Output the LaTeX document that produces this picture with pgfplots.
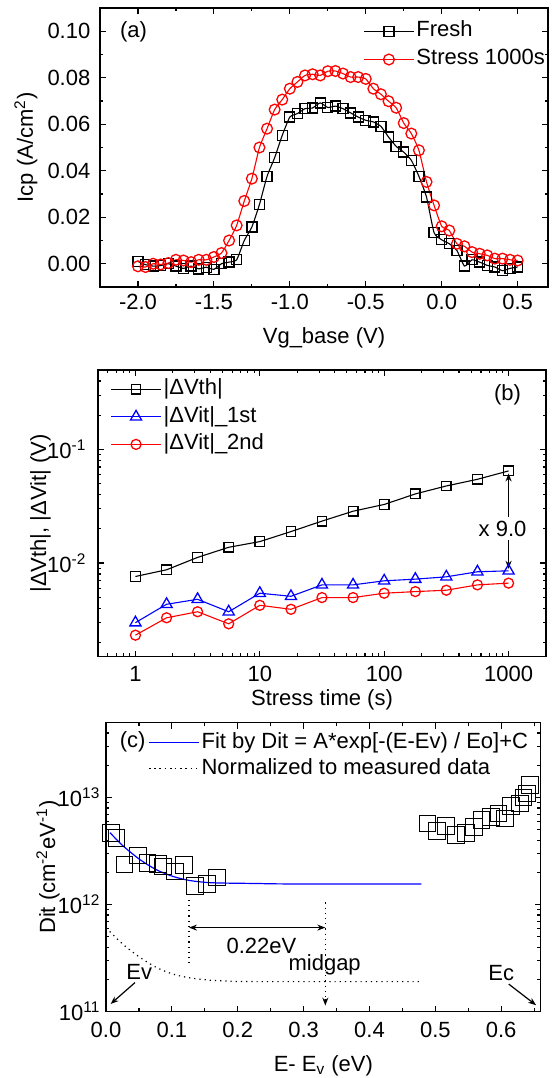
\documentclass[border=0pt]{standalone}
\usepackage{fontspec}
\setmainfont{Liberation Sans}
\usepackage{pgfplots}
\pgfplotsset{compat=1.18}
\usetikzlibrary{arrows.meta}

\pgfplotsset{
  orig/.style={
    scale only axis,
    anchor=south west,
    clip=false,
    font=\fontsize{11}{13}\selectfont,
    axis line style={line width=0.7pt},
    tick align=inside,
    major tick length=3pt,
    minor tick length=1.7pt,
    every tick/.append style={black, line width=0.6pt},
    every minor tick/.append style={black, line width=0.6pt},
    tick label style={font=\fontsize{11}{13}\selectfont},
    label style={font=\fontsize{11}{13}\selectfont},
    legend cell align=left,
    /pgf/number format/assume math mode=true,
    legend image code/.code={\draw[mark repeat=2,mark phase=2,#1] plot coordinates {(0pt,0pt) (12.5pt,0pt) (25pt,0pt)};},
    legend style={draw=none, fill=none, inner sep=0pt, row sep=1.5pt,
      font=\fontsize{11}{13}\selectfont,
      nodes={inner sep=1pt, text height=8pt, text depth=2.5pt}},
  },
  ln/.style={line width=0.55pt, mark options={solid, line width=0.65pt}},
}

\begin{document}
\begin{tikzpicture}
\path[use as bounding box] (0,0) rectangle (279.5pt,539pt);

% ---------------- (a) ----------------
\begin{axis}[orig, at={(50pt,395.5pt)}, width=224pt, height=139.5pt,
  xmin=-2.25, xmax=0.7, ymin=-0.01, ymax=0.11,
  xtick={-2,-1.5,-1,-0.5,0,0.5}, xticklabels={-2.0,-1.5,-1.0,-0.5,0.0,0.5},
  minor xtick={-1.75,-1.25,-0.75,-0.25,0.25},
  ytick={0,0.02,0.04,0.06,0.08,0.10}, yticklabels={0.00,0.02,0.04,0.06,0.08,0.10},
  minor ytick={0.01,0.03,0.05,0.07,0.09},
  yticklabel style={xshift=-1.3pt},
  xlabel={Vg\_base (V)}, ylabel={Icp (A/cm\textsuperscript{2})},
  xlabel style={at={(axis description cs:0.5,0)}, anchor=base, yshift=-28.5pt},
  ylabel style={at={(axis description cs:-0.1496,0.5)}, anchor=base},
  legend style={at={(axis description cs:0.587,0.962)}, anchor=north west, row sep=1.5pt},
]
\addplot[ln, black, mark=square, mark size=2.5pt, smooth, tension=0.3] coordinates {
(-2.00,0.0010) (-1.95,-0.0004) (-1.90,-0.0010) (-1.85,-0.0008) (-1.80,0.0000)
(-1.75,-0.0010) (-1.70,-0.0020) (-1.65,-0.0010) (-1.60,-0.0022) (-1.55,-0.0015)
(-1.50,-0.0024) (-1.45,0.0000) (-1.40,0.0007) (-1.35,0.0017) (-1.30,0.0100)
(-1.25,0.0158) (-1.20,0.0255) (-1.15,0.0376) (-1.10,0.0456) (-1.05,0.0552)
(-1.00,0.0631) (-0.95,0.0646) (-0.90,0.0667) (-0.85,0.0670) (-0.80,0.0692)
(-0.75,0.0672) (-0.70,0.0678) (-0.65,0.0667) (-0.60,0.0649) (-0.55,0.0631)
(-0.50,0.0617) (-0.45,0.0610) (-0.40,0.0591) (-0.35,0.0545) (-0.30,0.0505)
(-0.25,0.0480) (-0.20,0.0445) (-0.15,0.0376) (-0.10,0.0287) (-0.05,0.0133)
(0.00,0.0103) (0.05,0.0086) (0.10,0.0057) (0.15,-0.0010) (0.20,0.0017)
(0.25,0.0007) (0.30,-0.0007) (0.35,-0.0014) (0.40,-0.0030) (0.45,-0.0020)
(0.50,-0.0014)};
\addlegendentry{Fresh}
\addplot[ln, red, mark=o, mark size=2.7pt, smooth, tension=0.3] coordinates {
(-2.00,-0.0011) (-1.95,-0.0014) (-1.90,0.0000) (-1.85,-0.0003) (-1.80,0.0003)
(-1.75,0.0017) (-1.70,0.0014) (-1.65,0.0007) (-1.60,0.0017) (-1.55,0.0017)
(-1.50,0.0029) (-1.45,0.0046) (-1.40,0.0100) (-1.35,0.0165) (-1.30,0.0270)
(-1.25,0.0366) (-1.20,0.0500) (-1.15,0.0581) (-1.10,0.0663) (-1.05,0.0706)
(-1.00,0.0753) (-0.95,0.0782) (-0.90,0.0810) (-0.85,0.0815) (-0.80,0.0810)
(-0.75,0.0828) (-0.70,0.0829) (-0.65,0.0818) (-0.60,0.0803) (-0.55,0.0803)
(-0.50,0.0795) (-0.45,0.0753) (-0.40,0.0729) (-0.35,0.0699) (-0.30,0.0671)
(-0.25,0.0605) (-0.20,0.0560) (-0.15,0.0488) (-0.10,0.0352) (-0.05,0.0251)
(0.00,0.0161) (0.05,0.0143) (0.10,0.0086) (0.15,0.0075) (0.20,0.0050)
(0.25,0.0043) (0.30,0.0036) (0.35,0.0022) (0.40,0.0022) (0.45,0.0017)
(0.50,0.0014)};
\addlegendentry{Stress 1000s}
\node[anchor=west] at (axis description cs:0.029,0.914) {(a)};
\end{axis}

% ---------------- (b) ----------------
\begin{axis}[orig, at={(49pt,210.65pt)}, width=224pt, height=143.35pt,
  xmode=log, ymode=log, xmin=0.5, xmax=2000, ymin=0.0015, ymax=0.5,
  xtick={1,10,100,1000}, xticklabels={1,10,100,1000},
  minor xtick={0.6,0.7,0.8,0.9,2,3,4,5,6,7,8,9,20,30,40,50,60,70,80,90,200,300,400,500,600,700,800,900},
  ytick={0.01,0.1}, yticklabels={10\textsuperscript{-2},10\textsuperscript{-1}},
  minor ytick={0.002,0.003,0.004,0.005,0.006,0.007,0.008,0.009,0.02,0.03,0.04,0.05,0.06,0.07,0.08,0.09,0.2,0.3,0.4},
  xticklabel style={yshift=-1.3pt},
  yticklabel style={xshift=-2.3pt},
  xlabel={Stress time (s)}, ylabel={|ΔVth|, |ΔVit| (V)},
  xlabel style={at={(axis description cs:0.5,0)}, anchor=base, yshift=-24.5pt},
  ylabel style={at={(axis description cs:-0.116,0.5)}, anchor=base},
  legend style={at={(axis description cs:0.027,0.978)}, anchor=north west, row sep=1.3pt},
]
\addplot[ln, black, mark=square, mark size=2.4pt] coordinates {
(1,0.00762) (1.78,0.00873) (3.16,0.01122) (5.62,0.01377) (10,0.01545)
(17.8,0.01893) (31.6,0.0234) (56.2,0.0286) (100,0.0328) (178,0.0406)
(316,0.0477) (562,0.0546) (1000,0.0647)};
\addlegendentry{|ΔVth|}
\addplot[ln, blue, mark=triangle, mark size=3.2pt] coordinates {
(1,0.00299) (1.78,0.00434) (3.16,0.0048) (5.62,0.00373) (10,0.00543)
(17.8,0.0051) (31.6,0.00643) (56.2,0.00643) (100,0.00698) (178,0.00722)
(316,0.00757) (562,0.00838) (1000,0.00855)};
\addlegendentry{|ΔVit|\_1st}
\addplot[ln, red, mark=o, mark size=2.5pt] coordinates {
(1,0.00232) (1.78,0.0033) (3.16,0.00373) (5.62,0.00292) (10,0.00425)
(17.8,0.00392) (31.6,0.00497) (56.2,0.00497) (100,0.00543) (178,0.00561)
(316,0.00577) (562,0.00643) (1000,0.00666)};
\addlegendentry{|ΔVit|\_2nd}
\draw[line width=0.6pt, -{Stealth[length=4pt,width=3pt]}] (axis cs:1000,0.0254) -- (axis cs:1000,0.0615);
\draw[line width=0.6pt, -{Stealth[length=4pt,width=3pt]}] (axis cs:1000,0.0158) -- (axis cs:1000,0.0089);
\node at (axis cs:895,0.0198) {x 9.0};
\node[anchor=east] at (axis description cs:0.96,0.913) {(b)};
\end{axis}

% ---------------- (c) ----------------
\begin{axis}[orig, at={(53pt,33.15pt)}, width=217.35pt, height=144.5pt,
  ymode=log, xmin=0, xmax=0.66, ymin=1e11, ymax=5e13,
  xtick={0,0.1,0.2,0.3,0.4,0.5,0.6}, xticklabels={0.0,0.1,0.2,0.3,0.4,0.5,0.6},
  minor xtick={0.05,0.15,0.25,0.35,0.45,0.55,0.65},
  ytick={1e11,1e12,1e13}, yticklabels={10\textsuperscript{11},10\textsuperscript{12},10\textsuperscript{13}},
  minor ytick={2e11,3e11,4e11,5e11,6e11,7e11,8e11,9e11,2e12,3e12,4e12,5e12,6e12,7e12,8e12,9e12,2e13,3e13,4e13},
  xticklabel style={yshift=-1.8pt},
  yticklabel style={xshift=0.7pt},
  xlabel={E- E\textsubscript{v} (eV)}, ylabel={Dit (cm\textsuperscript{-2}eV\textsuperscript{-1})},
  xlabel style={at={(axis description cs:0.5,0)}, anchor=base, yshift=-30pt},
  ylabel style={at={(axis description cs:-0.1173,0.5)}, anchor=base},
  legend style={at={(axis description cs:0.0966,0.975)}, anchor=north west, row sep=0.5pt},
]
\addplot[only marks, black, mark=square, mark size=4.2pt, mark options={line width=0.5pt}, forget plot] coordinates {
(0.007,4.64e12) (0.016,4.22e12) (0.028,2.37e12) (0.049,2.87e12) (0.063,2.44e12)
(0.079,2.39e12) (0.087,2.27e12) (0.105,2.04e12) (0.119,2.35e12) (0.135,1.50e12)
(0.153,1.56e12) (0.169,1.79e12)
(0.488,5.73e12) (0.502,4.86e12) (0.516,5.42e12) (0.531,4.47e12) (0.547,4.63e12)
(0.559,5.34e12) (0.570,6.15e12) (0.585,6.61e12) (0.596,7.10e12) (0.606,6.38e12)
(0.615,8.31e12) (0.628,8.80e12) (0.634,1.00e13) (0.639,1.09e13) (0.644,1.32e13)};
\addplot[blue, line width=0.6pt, smooth] coordinates {
(0.006,4.70e12) (0.026,3.53e12) (0.052,2.62e12) (0.077,2.11e12) (0.102,1.83e12)
(0.127,1.68e12) (0.153,1.61e12) (0.178,1.59e12) (0.228,1.575e12) (0.279,1.56e12)
(0.479,1.556e12)};
\addlegendentry{Fit by Dit = A*exp[-(E-Ev) / Eo]+C}
\addplot[black, line width=0.6pt, dotted, smooth] coordinates {
(0.000,6.07e11) (0.026,4.25e11) (0.052,3.20e11) (0.077,2.58e11) (0.102,2.24e11)
(0.127,2.07e11) (0.153,1.98e11) (0.178,1.94e11) (0.228,1.91e11) (0.479,1.91e11)};
\addlegendentry{Normalized to measured data}
\draw[line width=0.6pt, dotted] (axis cs:0.126,1.11e12) -- (axis cs:0.126,2.87e11);
\draw[line width=0.6pt, dotted] (axis cs:0.333,1.05e12) -- (axis cs:0.333,1.25e11);
\draw[line width=0.6pt, -{Stealth[length=4pt,width=3pt]}] (axis cs:0.333,1.3e11) -- (axis cs:0.333,1.14e11);
\draw[line width=0.6pt, {Stealth[length=4pt,width=3pt]}-{Stealth[length=4pt,width=3pt]}] (axis cs:0.126,6.1e11) -- (axis cs:0.333,6.1e11);
\node at (axis cs:0.236,4.1e11) {0.22eV};
\node at (axis cs:0.332,2.72e11) {midgap};
\node at (axis cs:0.0505,2.35e11) {Ev};
\node at (axis cs:0.600,2.32e11) {Ec};
\draw[line width=0.6pt, -{Stealth[length=4pt,width=3pt]}] (axis cs:0.044,1.87e11) -- (axis cs:0.007,1.18e11);
\draw[line width=0.6pt, -{Stealth[length=4pt,width=3pt]}] (axis cs:0.6115,1.81e11) -- (axis cs:0.653,1.15e11);
\node[anchor=west] at (axis description cs:0.0154,0.934) {(c)};
\end{axis}
\end{tikzpicture}
\end{document}
